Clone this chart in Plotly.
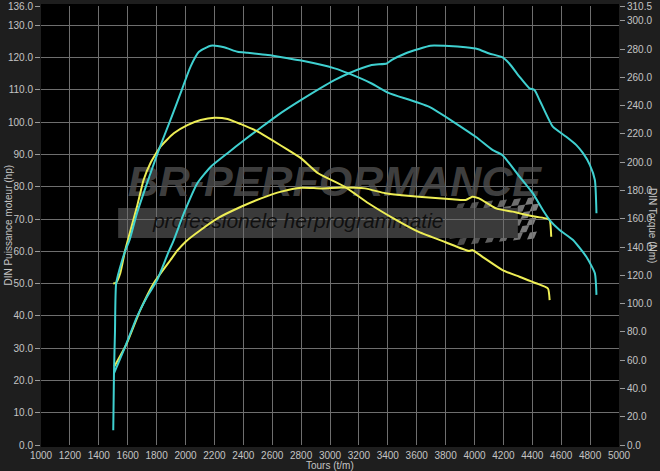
import plotly.graph_objects as go

# ---------------- data ----------------
# Tuned torque (Nm) - cyan
tuned_torque_rpm = [1500, 1505, 1512, 1520, 1560, 1585, 1613, 1664, 1734, 1815, 1896, 1966, 2035,
                    2093, 2175, 2267, 2361, 2430, 2570, 2709, 2801, 3032, 3129, 3288, 3405, 3684,
                    4008, 4124, 4194, 4310, 4403, 4473, 4520, 4589, 4682, 4774, 4833, 4844]
tuned_torque_nm = [10.5, 50.2, 79.9, 114.2, 130.1, 137.9, 145.0, 163.9, 185.2, 208.7, 229.9, 248.9, 267.6,
                   278.1, 282.4, 281.3, 278.1, 277.4, 275.8, 273.5, 271.9, 266.4, 262.8, 255.7, 249.1, 239.3,
                   218.0, 208.7, 205.0, 190.0, 178.1, 166.2, 159.1, 152.1, 145.0, 133.1, 121.5, 106.2]

# Tuned power (hp) - cyan
tuned_power_rpm = [1505, 1583, 1664, 1734, 1804, 1880, 1919, 1989, 2082, 2175, 2291, 2407, 2500, 2639,
                   2801, 3034, 3127, 3288, 3393, 3428, 3521, 3614, 3695, 3823, 3939, 4020, 4102, 4194,
                   4241, 4311, 4380, 4415, 4450, 4542, 4635, 4705, 4751, 4798, 4833, 4844]
tuned_power_hp = [22.2, 30.5, 39.7, 45.9, 51.1, 59.5, 63.5, 71.8, 81.1, 86.2, 90.4, 94.5, 97.6, 102.2,
                  106.9, 113.1, 115.1, 117.7, 118.2, 119.3, 121.3, 122.7, 123.7, 123.6, 123.2, 122.7, 121.3, 120.1,
                  118.2, 114.1, 110.5, 110.0, 106.9, 98.6, 95.5, 92.9, 90.4, 86.8, 82.1, 71.8]

# Stock torque (Nm) - yellow
stock_torque_rpm = [1500, 1520, 1549, 1583, 1664, 1710, 1757, 1827, 1919, 2013, 2105, 2200, 2291, 2384,
                    2500, 2616, 2709, 2801, 2918, 3103, 3266, 3451, 3614, 3800, 3962, 3985, 4055, 4194,
                    4311, 4426, 4508, 4520]
stock_torque_nm = [114.2, 114.8, 121.7, 137.9, 168.5, 187.4, 199.3, 211.0, 220.5, 226.3, 229.9, 231.5, 230.6, 226.9,
                   221.7, 214.6, 208.7, 202.7, 192.2, 182.6, 171.0, 159.6, 150.7, 143.4, 137.2, 137.9, 133.1, 123.7,
                   119.0, 114.4, 110.7, 102.5]

# Stock power (hp) - yellow
stock_power_rpm = [1507, 1594, 1687, 1780, 1896, 1943, 2001, 2105, 2221, 2384, 2523, 2662, 2801, 2941,
                   3080, 3242, 3381, 3498, 3614, 3846, 3939, 3985, 4032, 4148, 4264, 4311, 4426, 4496,
                   4520, 4531]
stock_power_hp = [24.3, 31.5, 41.8, 50.1, 57.3, 60.2, 63.0, 66.6, 70.2, 73.8, 76.4, 78.5, 79.7, 79.5,
                  79.8, 79.5, 78.0, 77.4, 76.9, 76.1, 75.9, 76.9, 76.4, 73.3, 72.3, 71.8, 70.7, 70.2,
                  69.7, 64.5]

x_ticks = list(range(1000, 5001, 200))
left_ticks = [v for v in range(0, 131, 10)] + [136]
right_ticks = [v for v in range(0, 301, 20)] + [310.5]

# ---------------- style ----------------
CYAN = "#3fd0d0"
YELLOW = "#eeee55"
TXT = "#c4c4c4"
GRID = "#6e6e6e"
FONT = "Liberation Sans, Arial, sans-serif"

fig = go.Figure()

# watermark (drawn first so the curves sit on top)
fig.add_trace(go.Scatter(
    x=[3030], y=[80.5], mode="text", text=["BR-PERFORMANCE"],
    textfont=dict(family=FONT, size=43, color="rgba(80,80,80,0.8)", weight="bold", style="italic"),
    hoverinfo="skip", showlegend=False))
fig.add_trace(go.Scatter(
    x=[2780], y=[68.8], mode="text", text=["professionele herprogrammatie"],
    textfont=dict(family=FONT, size=21, color="rgba(10,10,10,0.9)", style="italic"),
    hoverinfo="skip", showlegend=False))

line_kw = dict(shape="spline", smoothing=0.5, width=2)
fig.add_trace(go.Scatter(x=stock_power_rpm, y=stock_power_hp, mode="lines",
                         line=dict(color=YELLOW, **line_kw), hoverinfo="skip", showlegend=False))
fig.add_trace(go.Scatter(x=stock_torque_rpm, y=stock_torque_nm, mode="lines", yaxis="y2",
                         line=dict(color=YELLOW, **line_kw), hoverinfo="skip", showlegend=False))
fig.add_trace(go.Scatter(x=tuned_power_rpm, y=tuned_power_hp, mode="lines",
                         line=dict(color=CYAN, **line_kw), hoverinfo="skip", showlegend=False))
fig.add_trace(go.Scatter(x=tuned_torque_rpm, y=tuned_torque_nm, mode="lines", yaxis="y2",
                         line=dict(color=CYAN, **line_kw), hoverinfo="skip", showlegend=False))

# watermark band
fig.add_shape(type="rect", xref="x", yref="y", x0=1534, x1=4300, y0=64.1, y1=73.4,
              fillcolor="#3a3a3a", line=dict(width=0), layer="below")

# checkered flag decoration at the right end of the band (paper-pixel geometry)
PLOT_L, PLOT_W, PLOT_T, PLOT_H, FIG_H = 41, 578, 6, 439, 471
def px_to_paper(px, py):
    return (px - PLOT_L) / PLOT_W, (PLOT_T + PLOT_H - py) / PLOT_H
sq = 7
for r in range(6):
    for c in range(12):
        if (r + c) % 2:
            continue
        x0 = 458 + c * sq - r * 3 + (r * r) * 0.4
        y0 = 204 + r * sq - (c * 0.6)
        pts = [(x0, y0), (x0 + sq, y0 - 1), (x0 + sq - 3, y0 + sq - 1), (x0 - 3, y0 + sq)]
        path = "M " + " L ".join(f"{px_to_paper(*p)[0]:.4f},{px_to_paper(*p)[1]:.4f}" for p in pts) + " Z"
        shade = 70 + int(5 * c)
        fig.add_shape(type="path", xref="paper", yref="paper", path=path,
                      fillcolor=f"rgb({shade},{shade},{shade})", line=dict(width=0), layer="below")

title_font = dict(family=FONT, size=10, color=TXT)
fig.add_annotation(text="DIN Puissance moteur (hp)", xref="paper", yref="paper",
                   x=-0.057, y=0.5, textangle=-90, showarrow=False, font=title_font,
                   xanchor="center", yanchor="middle")
fig.add_annotation(text="DIN Torque (Nm)", xref="paper", yref="paper",
                   x=1.058, y=0.5, textangle=90, showarrow=False, font=title_font,
                   xanchor="center", yanchor="middle")
fig.add_annotation(text="Tours (t/m)", xref="paper", yref="paper",
                   x=0.5, y=-0.046, showarrow=False, font=title_font,
                   xanchor="center", yanchor="middle")

fig.update_layout(
    width=660, height=471,
    margin=dict(l=41, r=41, t=6, b=26, autoexpand=False),
    paper_bgcolor="#1e1e1e", plot_bgcolor="#000000",
    font=dict(family=FONT, size=10, color=TXT),
    xaxis=dict(range=[1000, 5000], tickvals=x_ticks, ticktext=[str(v) for v in x_ticks],
               showgrid=True, gridcolor=GRID, gridwidth=1, zeroline=False,
               showline=True, linecolor="#000000", linewidth=2, mirror=True,
               ticks="", tickfont=dict(size=10, color=TXT), automargin=False),
    yaxis=dict(range=[0, 136], tickvals=left_ticks, ticktext=[f"{v:.1f}" for v in left_ticks],
               showgrid=True, gridcolor=GRID, gridwidth=1, zeroline=False,
               showline=False, ticks="outside", ticklen=5, tickcolor="#9a9a9a",
               tickfont=dict(size=10, color=TXT), automargin=False),
    yaxis2=dict(range=[0, 310.5], tickvals=right_ticks, ticktext=[f"{v:.1f}" for v in right_ticks],
                overlaying="y", side="right", showgrid=False, zeroline=False, showline=False,
                ticks="outside", ticklen=5, tickcolor="#9a9a9a",
                tickfont=dict(size=10, color=TXT), automargin=False),
    hovermode=False, showlegend=False,
)

fig.write_html("out.html", config={"displayModeBar": False},
               post_script="document.body.style.margin='0';document.body.style.background='#1e1e1e';")
